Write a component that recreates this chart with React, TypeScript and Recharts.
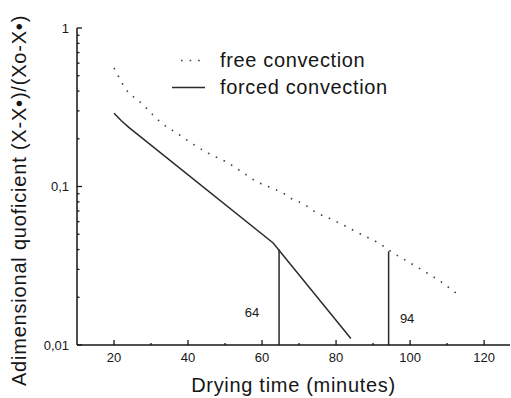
import { Legend, Line, LineChart, ReferenceDot, ReferenceLine, XAxis, YAxis } from 'recharts';

// free convection (dotted)
const freeTime = [20, 24, 26.5, 33, 37.5, 41.5, 45.5, 51, 54, 59, 63, 66, 67.5, 71.5, 74, 79.5, 87.5, 91.5, 95.5, 99.5, 104, 108, 113];
const freeValue = [0.56, 0.39, 0.35, 0.25, 0.213, 0.184, 0.162, 0.14, 0.126, 0.106, 0.097, 0.09, 0.085, 0.077, 0.07, 0.061, 0.049, 0.044, 0.038, 0.0335, 0.029, 0.0254, 0.0207];

// forced convection (solid)
const forcedTime = [20, 22, 24, 63, 84];
const forcedValue = [0.29, 0.26, 0.236, 0.044, 0.011];

const seriesNames = ['free convection', 'forced convection'];

// vertical markers
const markTime = [64.6, 94.2];
const markTop = [0.04, 0.039];
const markLabel = ['64', '94'];
const markLabelTime = [57.3, 99.2];
const markLabelValue = [0.016, 0.0148];

const xTicks = [20, 30, 40, 50, 60, 70, 80, 90, 100, 110, 120];
const xLabelTicks = [20, 40, 60, 80, 100, 120];
const yTicks = [0.01, 0.02, 0.03, 0.04, 0.05, 0.06, 0.07, 0.08, 0.09, 0.1, 0.2, 0.3, 0.4, 0.5, 0.6, 0.7, 0.8, 0.9, 1];
const yLabelTicks = [0.01, 0.1, 1];

const freeData = freeTime.map((t, i) => ({ t, v: freeValue[i] }));
const forcedData = forcedTime.map((t, i) => ({ t, v: forcedValue[i] }));

const ink = '#161616';
const font = '"Liberation Sans", Arial, sans-serif';
const dotted = '1.6 7';

const XTick = ({ x, y, payload }: any) => {
  const major = xLabelTicks.includes(payload.value);
  return (
    <g>
      <line x1={x} x2={x} y1={y} y2={y - (major ? 5 : 2)} stroke={ink} strokeWidth={1.3} />
      {major && (
        <text x={x} y={y + 17} textAnchor="middle" fontSize={13} fill={ink} fontFamily={font}>
          {payload.value}
        </text>
      )}
    </g>
  );
};

const YTick = ({ x, y, payload }: any) => {
  const major = yLabelTicks.includes(payload.value);
  return (
    <g>
      <line x1={x} x2={x + (major ? 5 : 2.5)} y1={y} y2={y} stroke={ink} strokeWidth={1.3} />
      {major && (
        <text x={x - 8} y={y + 4.5} textAnchor="end" fontSize={13} fill={ink} fontFamily={font}>
          {String(payload.value).replace('.', ',')}
        </text>
      )}
    </g>
  );
};

const renderLegend = ({ payload }: any) => {
  const items = [...(payload || [])].sort(
    (a: any, b: any) => seriesNames.indexOf(a.value) - seriesNames.indexOf(b.value),
  );
  return (
    <div style={{ fontFamily: font, fontSize: 20, letterSpacing: 0.65, color: ink }}>
      {items.map((entry: any) => {
        const isFree = entry.value === seriesNames[0];
        return (
          <div key={entry.value} style={{ display: 'flex', alignItems: 'center', height: 27 }}>
            <svg width={48} height={27}>
              <line
                x1={isFree ? 9 : 0}
                x2={33}
                y1={13.5}
                y2={13.5}
                stroke={entry.color}
                strokeWidth={1.5}
                strokeDasharray={isFree ? dotted : undefined}
              />
            </svg>
            <span>{entry.value}</span>
          </div>
        );
      })}
    </div>
  );
};

export default function App() {
  return (
    <div style={{ position: 'absolute', left: 0, top: 0, background: '#fff' }}>
      <LineChart width={511} height={398} margin={{ top: 28, right: 1, bottom: 0, left: 0 }}>
        <XAxis
          type="number"
          dataKey="t"
          domain={[10, 127]}
          ticks={xTicks}
          interval={0}
          allowDataOverflow
          height={53}
          tickSize={0}
          tickMargin={0}
          tickLine={false}
          tick={<XTick />}
          axisLine={{ stroke: ink, strokeWidth: 1.5 }}
          label={{
            value: 'Drying time (minutes)',
            position: 'insideBottom',
            offset: 6,
            fontSize: 20,
            fill: ink,
            fontFamily: font,
            style: { letterSpacing: 0.7 },
          }}
        />
        <YAxis
          type="number"
          scale="log"
          domain={[0.01, 1]}
          ticks={yTicks}
          interval={0}
          allowDataOverflow
          width={77}
          tickSize={0}
          tickMargin={0}
          tickLine={false}
          tick={<YTick />}
          axisLine={{ stroke: ink, strokeWidth: 1.5 }}
          label={{
            value: 'Adimensional quoficient  (X-X•)/(Xo-X•)',
            angle: -90,
            position: 'insideLeft',
            offset: 0,
            dx: 19,
            dy: 14,
            fontSize: 20,
            fill: ink,
            fontFamily: font,
            style: { letterSpacing: 0.8, textAnchor: 'middle', whiteSpace: 'pre' },
          }}
        />
        <Legend
          layout="vertical"
          align="center"
          verticalAlign="middle"
          content={renderLegend}
          wrapperStyle={{ left: 172, top: 47, width: 260 }}
        />
        <Line
          name="free convection"
          data={freeData}
          dataKey="v"
          type="monotone"
          stroke="#444"
          strokeWidth={1.6}
          strokeDasharray={dotted}
          dot={false}
          isAnimationActive={false}
        />
        <Line
          name="forced convection"
          data={forcedData}
          dataKey="v"
          type="linear"
          stroke="#2a2a2a"
          strokeWidth={1.5}
          dot={false}
          isAnimationActive={false}
        />
        {markTime.map((t, i) => (
          <ReferenceLine
            key={t}
            segment={[
              { x: t, y: 0.01 },
              { x: t, y: markTop[i] },
            ]}
            stroke="#2a2a2a"
            strokeWidth={1.5}
          />
        ))}
        {markLabel.map((s, i) => (
          <ReferenceDot
            key={s}
            x={markLabelTime[i]}
            y={markLabelValue[i]}
            r={0}
            fill="none"
            stroke="none"
            label={{ value: s, position: 'center', fontSize: 13, fill: ink, fontFamily: font }}
          />
        ))}
      </LineChart>
    </div>
  );
}
